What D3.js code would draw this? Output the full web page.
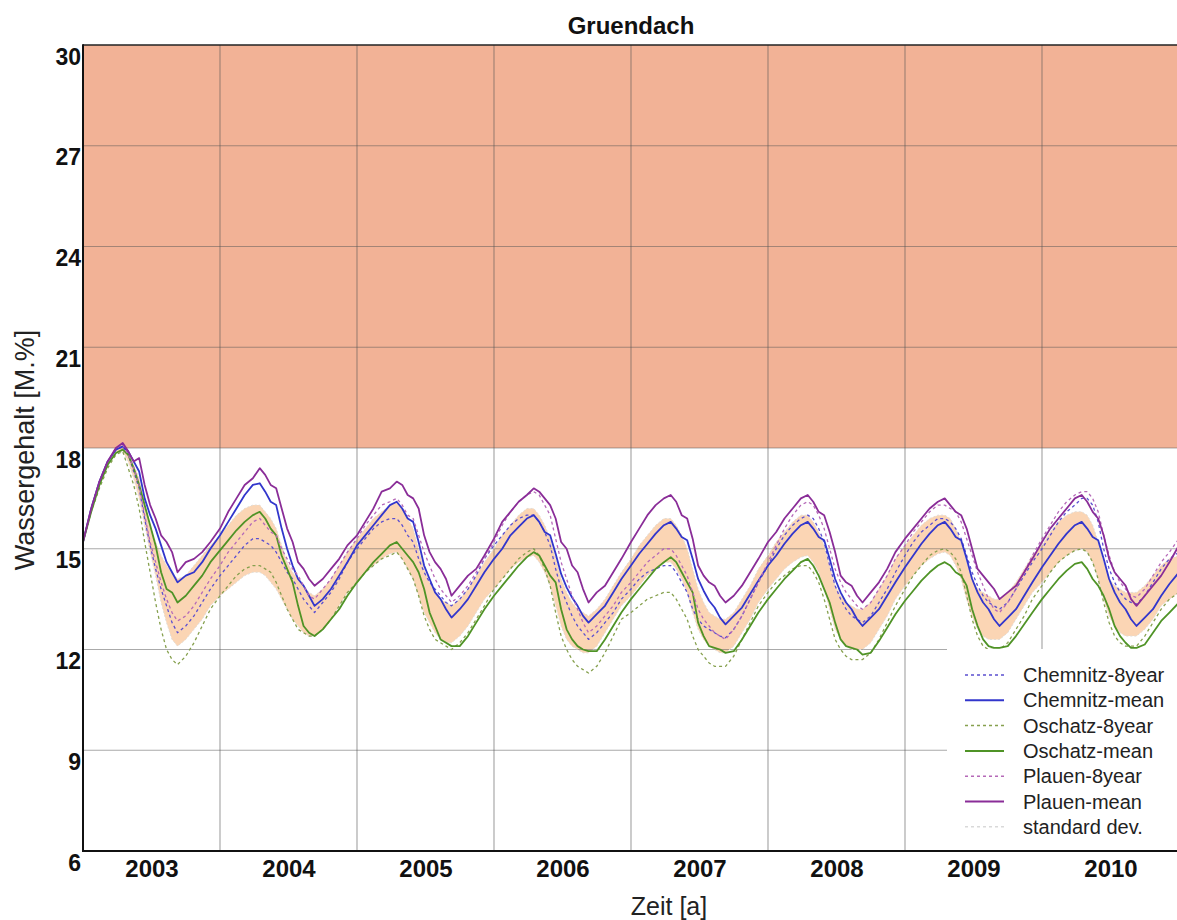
<!DOCTYPE html>
<html>
<head>
<meta charset="utf-8">
<script src="https://cdn.jsdelivr.net/npm/d3@7"></script>
<style>
  body { margin: 0; background: #fff; }
  text { font-family: "Liberation Sans", Arial, sans-serif; }
</style>
</head>
<body>
<svg></svg>
<script>
// time grid: 20 sample points inside each year, plus the closing point
var years = [2003, 2004, 2005, 2006, 2007, 2008, 2009, 2010]
var yearOffsets = [0, .06, .12, .18, .24, .29, .33, .37, .41, .45, .49, .53, .57, .61, .65, .69, .75, .81, .87, .93]
var endYear = 2011

var yearLabels = ["2003", "2004", "2005", "2006", "2007", "2008", "2009", "2010"]
var yTicks = [6, 9, 12, 15, 18, 21, 24, 27, 30]
var limitLow = 18
var limitHigh = 30

var chemnitz8 = [
  15.2, 16.2, 17.0, 17.6, 17.95, 18.05, 17.8, 17.3, 16.8, 15.9, 15.1, 14.4, 13.8, 13.3, 12.8, 12.5, 12.7, 13.0, 13.4, 13.8,
  14.2, 14.5, 14.8, 15.1, 15.3, 15.3, 15.2, 15.1, 14.9, 14.6, 14.3, 14.1, 13.8, 13.5, 13.3, 13.1, 13.4, 13.7, 14.1, 14.6,
  15.0, 15.3, 15.6, 15.8, 15.9, 15.9, 15.7, 15.4, 15.2, 14.7, 14.3, 14.0, 13.8, 13.6, 13.4, 13.3, 13.5, 13.8, 14.2, 14.7,
  15.1, 15.4, 15.7, 15.9, 16.0, 16.0, 15.8, 15.5, 15.1, 14.4, 13.8, 13.4, 13.0, 12.7, 12.5, 12.3, 12.5, 12.8, 13.1, 13.5,
  13.8, 14.1, 14.3, 14.4, 14.5, 14.5, 14.3, 14.0, 13.7, 13.2, 12.9, 12.7, 12.6, 12.5, 12.4, 12.35, 12.6, 13.0, 13.5, 14.0,
  14.5, 15.0, 15.4, 15.7, 15.9, 16.0, 15.9, 15.6, 15.2, 14.5, 13.9, 13.5, 13.2, 13.0, 12.9, 12.8, 13.0, 13.4, 13.8, 14.3,
  14.8, 15.2, 15.5, 15.7, 15.9, 15.9, 15.8, 15.6, 15.3, 14.8, 14.3, 13.9, 13.6, 13.4, 13.3, 13.2, 13.4, 13.8, 14.2, 14.6,
  15.0, 15.4, 15.8, 16.1, 16.3, 16.5, 16.5, 16.3, 15.8, 15.0, 14.4, 14.0, 13.7, 13.5, 13.4, 13.35, 13.6, 14.0, 14.4, 14.7,
  14.9
]
var chemnitzMean = [
  15.2, 16.2, 17.0, 17.6, 17.95, 18.05, 17.9, 17.6, 17.3, 16.5, 16.0, 15.6, 15.1, 14.6, 14.3, 14.0, 14.2, 14.3, 14.6, 15.0,
  15.4, 15.8, 16.2, 16.6, 16.9, 16.95, 16.7, 16.4, 16.3, 15.6, 15.0, 14.5, 14.1, 13.9, 13.6, 13.3, 13.5, 13.8, 14.2, 14.6,
  15.1, 15.4, 15.7, 16.0, 16.3, 16.4, 16.2, 15.9, 15.8, 15.2, 14.5, 14.1, 13.7, 13.5, 13.2, 12.95, 13.2, 13.5, 13.9, 14.3,
  14.7, 15.0, 15.4, 15.65, 15.9, 16.0, 15.8, 15.5, 15.4, 14.85, 14.25, 13.85, 13.55, 13.3, 13.0, 12.8, 13.05, 13.3, 13.7, 14.1,
  14.5, 14.85, 15.15, 15.45, 15.7, 15.8, 15.6, 15.35, 15.25, 14.7, 14.1, 13.75, 13.45, 13.25, 12.95, 12.75, 13.0, 13.25, 13.65, 14.05,
  14.5, 14.8, 15.15, 15.45, 15.7, 15.8, 15.6, 15.35, 15.25, 14.7, 14.1, 13.7, 13.4, 13.2, 12.9, 12.7, 12.95, 13.2, 13.6, 14.0,
  14.45, 14.8, 15.15, 15.45, 15.7, 15.8, 15.6, 15.35, 15.25, 14.7, 14.1, 13.7, 13.4, 13.2, 12.9, 12.7, 12.95, 13.2, 13.6, 14.0,
  14.45, 14.8, 15.15, 15.45, 15.7, 15.8, 15.6, 15.35, 15.25, 14.7, 14.1, 13.7, 13.4, 13.2, 12.9, 12.7, 12.95, 13.2, 13.6, 13.95,
  14.3
]
var oschatz8 = [
  15.2, 16.1, 16.8, 17.4, 17.8, 17.9, 17.4, 16.9, 16.2, 15.2, 14.3, 13.4, 12.6, 12.0, 11.7, 11.55, 11.8, 12.2, 12.7, 13.2,
  13.6, 13.9, 14.2, 14.4, 14.5, 14.5, 14.4, 14.3, 14.0, 13.6, 13.2, 12.9, 12.6, 12.5, 12.4, 12.4, 12.6, 12.9, 13.3, 13.7,
  14.0, 14.3, 14.5, 14.7, 14.8, 14.9, 14.7, 14.4, 14.1, 13.6, 13.0, 12.6, 12.3, 12.2, 12.1, 12.0, 12.2, 12.5, 12.9, 13.3,
  13.8, 14.1, 14.4, 14.7, 14.9, 15.0, 14.8, 14.4, 13.9, 13.1, 12.4, 12.0, 11.7, 11.5, 11.4, 11.3, 11.5, 11.9, 12.4, 12.9,
  13.1, 13.3, 13.5, 13.6, 13.7, 13.7, 13.5, 13.2, 12.9, 12.4, 12.0, 11.8, 11.6, 11.5, 11.5, 11.5, 11.8, 12.3, 12.8, 13.3,
  13.7, 14.0, 14.2, 14.4, 14.5, 14.5, 14.3, 14.0, 13.5, 12.9, 12.3, 12.0, 11.8, 11.7, 11.7, 11.7, 11.9, 12.3, 12.8, 13.3,
  13.8, 14.2, 14.5, 14.8, 14.95, 15.0, 14.9, 14.7, 14.3, 13.6, 12.9, 12.4, 12.1, 12.0, 12.0, 12.0, 12.2, 12.6, 13.0, 13.5,
  13.9, 14.3, 14.6, 14.8, 14.95, 15.0, 14.9, 14.6, 14.1, 13.4, 12.8, 12.4, 12.2, 12.1, 12.1, 12.1, 12.4, 12.8, 13.2, 13.5,
  13.7
]
var oschatzMean = [
  15.2, 16.1, 16.9, 17.5, 17.85, 17.95, 17.8, 17.4, 16.9, 16.3, 15.7, 15.1, 14.3, 13.8, 13.7, 13.4, 13.6, 13.9, 14.2, 14.6,
  14.95, 15.25, 15.55, 15.8, 16.0, 16.1, 15.9, 15.6, 15.4, 14.8, 14.4, 14.0, 13.3, 12.7, 12.5, 12.4, 12.6, 12.9, 13.2, 13.6,
  14.0, 14.3, 14.6, 14.85, 15.1, 15.2, 15.0, 14.8, 14.6, 14.3, 13.8, 13.1, 12.7, 12.3, 12.2, 12.1, 12.1, 12.4, 12.8, 13.2,
  13.6, 13.9, 14.2, 14.5, 14.75, 14.9, 14.8, 14.5, 14.2, 14.0, 13.2, 12.6, 12.3, 12.1, 12.0, 11.95, 11.95, 12.3, 12.7, 13.1,
  13.5, 13.8, 14.1, 14.4, 14.6, 14.75, 14.6, 14.3, 14.0, 13.7, 12.8, 12.4, 12.1, 12.05, 12.0, 11.9, 11.95, 12.3, 12.7, 13.1,
  13.5, 13.8, 14.1, 14.35, 14.6, 14.7, 14.5, 14.2, 13.8, 13.4, 12.8, 12.3, 12.1, 12.05, 12.0, 11.85, 11.9, 12.25, 12.65, 13.05,
  13.45, 13.75, 14.05, 14.3, 14.5, 14.6, 14.5, 14.3, 14.2, 13.9, 13.2, 12.7, 12.3, 12.1, 12.05, 12.05, 12.1, 12.4, 12.75, 13.1,
  13.5, 13.8, 14.1, 14.35, 14.55, 14.6, 14.4, 14.1, 13.9, 13.6, 13.2, 12.7, 12.4, 12.2, 12.05, 12.05, 12.15, 12.5, 12.85, 13.1,
  13.4
]
var plauen8 = [
  15.2, 16.2, 17.0, 17.6, 18.0, 18.1, 17.8, 17.4, 16.9, 16.0, 15.2, 14.6, 14.0, 13.5, 13.1, 12.85, 13.0, 13.3, 13.7, 14.1,
  14.5, 14.9, 15.2, 15.5, 15.8, 15.9, 15.7, 15.5, 15.4, 15.0, 14.7, 14.4, 14.2, 13.9, 13.6, 13.5, 13.8, 14.1, 14.5, 14.9,
  15.3, 15.7, 16.0, 16.3, 16.4, 16.5, 16.3, 16.0, 15.9, 15.4, 14.9, 14.5, 14.1, 13.8, 13.6, 13.4, 13.6, 13.9, 14.3, 14.7,
  15.2, 15.7, 16.1, 16.4, 16.6, 16.7, 16.6, 16.3, 16.0, 15.3, 14.6, 14.1, 13.6, 13.2, 12.8, 12.5, 12.7, 13.0, 13.3, 13.7,
  14.0, 14.3, 14.6, 14.8, 15.0, 15.0, 14.8, 14.5, 14.2, 13.7, 13.2, 12.9, 12.7, 12.5, 12.4, 12.3, 12.6, 13.0, 13.5, 14.0,
  14.6, 15.1, 15.6, 16.0, 16.3, 16.4, 16.3, 16.0, 15.6, 15.0, 14.4, 14.0, 13.7, 13.5, 13.3, 13.2, 13.4, 13.8, 14.2, 14.7,
  15.1, 15.5, 15.8, 16.1, 16.3, 16.3, 16.2, 16.1, 15.8, 15.3, 14.8, 14.3, 13.9, 13.5, 13.2, 13.1, 13.4, 13.8, 14.3, 14.8,
  15.3, 15.7, 16.1, 16.4, 16.6, 16.7, 16.7, 16.5, 16.1, 15.4, 14.8, 14.3, 14.0, 13.8, 13.6, 13.55, 13.8, 14.2, 14.6, 14.9,
  15.3
]
var plauenMean = [
  15.2, 16.2, 17.0, 17.6, 18.0, 18.15, 17.9, 17.6, 17.7, 16.9, 16.3, 15.9, 15.4, 15.2, 14.9, 14.3, 14.6, 14.7, 14.9, 15.2,
  15.6, 16.1, 16.5, 16.9, 17.1, 17.4, 17.2, 16.9, 16.8, 16.2, 15.6, 15.2, 14.6, 14.4, 14.1, 13.9, 14.1, 14.4, 14.7, 15.1,
  15.4, 15.8, 16.2, 16.7, 16.8, 17.0, 16.9, 16.6, 16.5, 16.2, 15.4, 14.9, 14.6, 14.4, 14.1, 13.6, 13.9, 14.2, 14.4, 14.8,
  15.3, 15.8, 16.1, 16.4, 16.6, 16.8, 16.7, 16.5, 16.3, 15.9, 15.2, 15.0, 14.5, 14.3, 13.8, 13.4, 13.7, 13.9, 14.3, 14.7,
  15.2, 15.6, 16.0, 16.3, 16.5, 16.6, 16.4, 16.0, 15.9, 15.3, 14.5, 14.2, 14.0, 13.9, 13.6, 13.4, 13.6, 13.9, 14.3, 14.7,
  15.2, 15.5, 15.9, 16.2, 16.5, 16.6, 16.4, 16.1, 16.0, 15.5, 14.9, 14.2, 14.0, 13.9, 13.6, 13.4, 13.7, 14.0, 14.4, 14.9,
  15.3, 15.6, 15.9, 16.2, 16.4, 16.5, 16.3, 16.1, 16.0, 15.6, 15.0, 14.4, 14.2, 14.0, 13.8, 13.5, 13.7, 13.9, 14.3, 14.7,
  15.2, 15.6, 15.9, 16.2, 16.5, 16.6, 16.4, 16.1, 15.9, 15.4, 14.7, 14.3, 14.1, 13.9, 13.5, 13.3, 13.6, 13.9, 14.2, 14.6,
  15.1
]
// standard deviation band (lower / upper edge)
var stdLow = [
  15.2, 16.1, 16.9, 17.5, 17.85, 17.9, 17.6, 17.1, 16.5, 15.7, 14.9, 14.2, 13.4, 12.8, 12.3, 12.1, 12.3, 12.6, 12.9, 13.3,
  13.6, 13.8, 14.0, 14.2, 14.3, 14.3, 14.2, 14.0, 13.8, 13.5, 13.2, 12.9, 12.7, 12.5, 12.4, 12.4, 12.6, 12.9, 13.3, 13.7,
  14.0, 14.3, 14.5, 14.7, 14.85, 14.9, 14.7, 14.4, 14.1, 13.6, 13.1, 12.8, 12.5, 12.3, 12.2, 12.2, 12.4, 12.7, 13.1, 13.5,
  13.8, 14.1, 14.4, 14.6, 14.75, 14.8, 14.6, 14.3, 13.9, 13.3, 12.7, 12.3, 12.1, 12.0, 11.9, 11.9, 12.1, 12.5, 12.9, 13.3,
  13.6, 13.9, 14.2, 14.4, 14.6, 14.6, 14.4, 14.1, 13.7, 13.1, 12.6, 12.3, 12.1, 12.0, 11.9, 11.9, 12.1, 12.5, 12.9, 13.4,
  13.8, 14.1, 14.4, 14.6, 14.75, 14.8, 14.6, 14.3, 13.8, 13.2, 12.6, 12.3, 12.1, 12.0, 12.0, 12.0, 12.2, 12.6, 13.0, 13.5,
  13.9, 14.2, 14.5, 14.7, 14.85, 14.9, 14.8, 14.5, 14.1, 13.5, 13.0, 12.6, 12.4, 12.3, 12.3, 12.3, 12.5, 12.9, 13.3, 13.7,
  14.0, 14.3, 14.6, 14.8, 14.95, 15.0, 14.9, 14.6, 14.1, 13.5, 13.0, 12.7, 12.5, 12.4, 12.4, 12.4, 12.6, 12.9, 13.3, 13.5,
  13.7
]
var stdHigh = [
  15.2, 16.2, 17.0, 17.6, 18.0, 18.1, 17.9, 17.5, 17.1, 16.3, 15.7, 15.2, 14.8, 14.5, 14.3, 14.1, 14.2, 14.5, 14.8, 15.1,
  15.4, 15.7, 16.0, 16.2, 16.3, 16.3, 16.1, 15.9, 15.6, 15.1, 14.6, 14.3, 14.1, 13.9, 13.7, 13.6, 13.8, 14.1, 14.5, 14.9,
  15.3, 15.6, 15.9, 16.1, 16.3, 16.4, 16.2, 15.9, 15.6, 15.0, 14.4, 14.0, 13.7, 13.5, 13.4, 13.3, 13.5, 13.8, 14.2, 14.6,
  15.0, 15.4, 15.7, 16.0, 16.2, 16.2, 16.0, 15.7, 15.3, 14.7, 14.1, 13.7, 13.4, 13.2, 13.1, 13.0, 13.2, 13.5, 13.9, 14.3,
  14.7, 15.1, 15.4, 15.7, 15.9, 15.9, 15.7, 15.4, 15.0, 14.4, 13.8, 13.4, 13.1, 13.0, 12.9, 12.9, 13.1, 13.5, 13.9, 14.4,
  14.8, 15.2, 15.5, 15.8, 16.0, 16.0, 15.8, 15.5, 15.1, 14.5, 13.9, 13.6, 13.4, 13.3, 13.2, 13.2, 13.4, 13.8, 14.2, 14.7,
  15.1, 15.4, 15.7, 15.9, 16.0, 16.0, 15.9, 15.6, 15.2, 14.6, 14.1, 13.8, 13.7, 13.6, 13.5, 13.5, 13.7, 14.0, 14.4, 14.8,
  15.1, 15.5, 15.8, 16.0, 16.1, 16.1, 16.0, 15.7, 15.2, 14.6, 14.1, 13.9, 13.8, 13.7, 13.7, 13.7, 13.9, 14.2, 14.5, 14.7,
  14.8
]

var timeGrid = years.flatMap(y => yearOffsets.map(o => y + o)).concat([endYear])

var width = 1177
var height = 920
var plotLeft = 83, plotTop = 45, plotRight = 1177, plotBottom = 851

var svg = d3.select("svg")
  .attr("width", width)
  .attr("height", height)

var x = d3.scaleLinear().domain([2003, 2011]).range([plotLeft, 1179])
var y = d3.scaleLinear().domain([6, 30]).range([plotBottom, plotTop])

svg.append("defs").append("clipPath").attr("id", "plot")
  .append("rect")
  .attr("x", plotLeft).attr("y", plotTop)
  .attr("width", plotRight - plotLeft).attr("height", plotBottom - plotTop)

var plot = svg.append("g").attr("clip-path", "url(#plot)")

// out-of-range zone
plot.append("rect")
  .attr("x", plotLeft)
  .attr("y", y(limitHigh))
  .attr("width", plotRight - plotLeft)
  .attr("height", y(limitLow) - y(limitHigh))
  .attr("fill", "#f2b296")

// standard deviation band
plot.append("path")
  .datum(stdLow)
  .attr("d", d3.area()
    .x((d, i) => x(timeGrid[i]))
    .y0(d => y(d))
    .y1((d, i) => y(stdHigh[i])))
  .attr("fill", "#fbd5b4")

// grid
plot.append("g")
  .selectAll("line")
  .data(years.slice(1))
  .enter()
  .append("line")
  .attr("x1", d => x(d)).attr("x2", d => x(d))
  .attr("y1", plotTop).attr("y2", plotBottom)
  .attr("stroke", "#555")
  .attr("stroke-opacity", .5)
  .attr("stroke-width", 1.2)

plot.append("g")
  .selectAll("line")
  .data(yTicks.slice(1, -1))
  .enter()
  .append("line")
  .attr("x1", plotLeft).attr("x2", plotRight)
  .attr("y1", d => y(d)).attr("y2", d => y(d))
  .attr("stroke", "#555")
  .attr("stroke-opacity", .5)
  .attr("stroke-width", 1.2)

var line = d3.line()
  .x((d, i) => x(timeGrid[i]))
  .y(d => y(d))

var series = [
  { name: "Chemnitz-8year", values: chemnitz8, color: "#5b4fd0", dash: "3,3", w: 1.3 },
  { name: "Chemnitz-mean", values: chemnitzMean, color: "#3236cc", dash: null, w: 1.8 },
  { name: "Oschatz-8year", values: oschatz8, color: "#86a04e", dash: "3,3", w: 1.3 },
  { name: "Oschatz-mean", values: oschatzMean, color: "#4f9326", dash: null, w: 1.8 },
  { name: "Plauen-8year", values: plauen8, color: "#b569b8", dash: "3,3", w: 1.3 },
  { name: "Plauen-mean", values: plauenMean, color: "#8a2d98", dash: null, w: 1.8 }
]

// standard deviation edges
;[stdLow, stdHigh].forEach(function(v) {
  plot.append("path")
    .datum(v)
    .attr("d", line)
    .attr("fill", "none")
    .attr("stroke", "#e0dcd6")
    .attr("stroke-width", 1)
    .attr("stroke-dasharray", "2,2")
})

series.forEach(function(s) {
  plot.append("path")
    .datum(s.values)
    .attr("d", line)
    .attr("fill", "none")
    .attr("stroke", s.color)
    .attr("stroke-width", s.w)
    .attr("stroke-dasharray", s.dash)
    .attr("stroke-linejoin", "round")
})

// legend
var legend = svg.append("g")
legend.append("rect")
  .attr("x", 947).attr("y", 649)
  .attr("width", plotRight - 947).attr("height", plotBottom - 649)
  .attr("fill", "#fff")

var legendItems = series.concat([{ name: "standard dev.", color: "#d9d9d9", dash: "3,3", w: 1.3 }])
var rows = legend.selectAll("g.row")
  .data(legendItems)
  .enter()
  .append("g")
  .attr("class", "row")
  .attr("transform", (d, i) => "translate(0," + (675 + i * 25.3) + ")")
rows.append("line")
  .attr("x1", 965).attr("x2", 1004)
  .attr("stroke", d => d.color)
  .attr("stroke-width", d => d.dash ? 1.5 : 2)
  .attr("stroke-dasharray", d => d.dash)
rows.append("text")
  .attr("x", 1023)
  .attr("dy", "0.35em")
  .style("font-size", "20px")
  .attr("fill", "#222")
  .text(d => d.name)

// frame
svg.append("line")
  .attr("x1", plotLeft).attr("x2", plotRight).attr("y1", plotTop).attr("y2", plotTop)
  .attr("stroke", "#222").attr("stroke-width", 1.5)
svg.append("line")
  .attr("x1", plotLeft).attr("x2", plotLeft).attr("y1", plotTop - 0.75).attr("y2", plotBottom + 1)
  .attr("stroke", "#111").attr("stroke-width", 2)
svg.append("line")
  .attr("x1", plotLeft).attr("x2", plotRight).attr("y1", plotBottom).attr("y2", plotBottom)
  .attr("stroke", "#111").attr("stroke-width", 2)

// axes
var yAxis = svg.append("g")
  .attr("transform", "translate(" + (plotLeft - 1) + ",0)")
  .call(d3.axisLeft(y).tickValues(yTicks).tickSize(0).tickPadding(1))
yAxis.select(".domain").remove()
yAxis.selectAll("text")
  .attr("dy", "0.83em")
  .style("font-size", "23px")
  .style("font-weight", "bold")
  .attr("fill", "#111")

var xAxis = svg.append("g")
  .attr("transform", "translate(0," + plotBottom + ")")
  .call(d3.axisBottom(x)
    .tickValues(years.map(d => d + 0.5))
    .tickFormat((d, i) => yearLabels[i])
    .tickSize(0)
    .tickPadding(9))
xAxis.select(".domain").remove()
xAxis.selectAll("text")
  .style("font-size", "24px")
  .style("font-weight", "bold")
  .attr("fill", "#111")

// titles
svg.append("text")
  .attr("x", 631).attr("y", 34)
  .attr("text-anchor", "middle")
  .style("font-size", "24px")
  .style("font-weight", "bold")
  .attr("fill", "#111")
  .text("Gruendach")

svg.append("text")
  .attr("transform", "translate(34,450) rotate(-90)")
  .attr("text-anchor", "middle")
  .style("font-size", "27px")
  .attr("fill", "#222")
  .text("Wassergehalt [M.%]")

svg.append("text")
  .attr("x", 669).attr("y", 915)
  .attr("text-anchor", "middle")
  .style("font-size", "25px")
  .attr("fill", "#222")
  .text("Zeit [a]")
</script>
</body>
</html>
